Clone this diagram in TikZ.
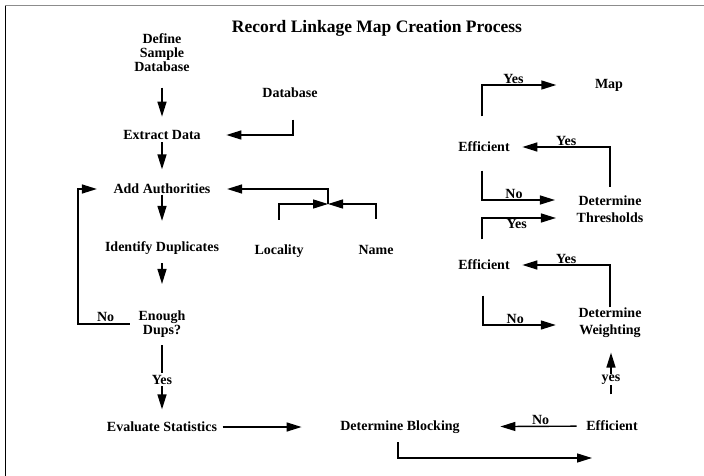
\documentclass[tikz,border=0pt]{standalone}
\usepackage{fontspec}
\setmainfont{Liberation Serif}
\usetikzlibrary{arrows.meta}
\begin{document}
\begin{tikzpicture}[x=1pt, y=-1pt, line width=1.4pt, >={Triangle[length=15pt,width=9pt]}, task node/.style={font=\bfseries\fontsize{14}{14}\selectfont, inner sep=0pt, align=center}, lbl/.style={font=\bfseries\fontsize{14}{14}\selectfont, inner sep=1pt}]%1pt = 1px
\useasboundingbox (0,0) rectangle (704,476);
\draw[line width=.8pt] (5,476) -- (5,5);
\draw[line width=.8pt, black!45] (5,5) -- (704,5);
\begin{scope}[every node/.style={task node}]
\node (title) at (377,28) {\fontsize{17.5}{18}\selectfont Record Linkage Map Creation Process};
\node (define) at (162,53) {Define\\Sample\\Database};
\node (database) at (290,93) {Database};
\node (extract) at (162,135) {Extract Data};
\node (addauth) at (162,189) {Add Authorities};
\node (identify) at (162,248) {Identify Duplicates};
\node (locality) at (279,251) {Locality};
\node (name) at (376,250) {Name};
\node (enough) at (162,324) {Enough\\Dups?};
\node (evaluate) at (162,427) {Evaluate Statistics};
\node (blocking) at (400,427) {Determine Blocking};
\node (effthree) at (612,426) {Efficient};
\node (weighting) at (610,323) {Determine\\[3pt]Weighting};
\node (efftwo) at (484,265) {Efficient};
\node (thresholds) at (610,209) {Determine\\[3pt]Thresholds};
\node (effone) at (484,147) {Efficient};
\node (map) at (609,85) {Map};
%\node (x) at (,) {};
\end{scope}
\begin{scope}[->, every node/.style={lbl}]
\coordinate (noloop) at (78,250);
\coordinate (merge) at (328,204);
\coordinate (blkend) at (592,458);
\draw (define) edge[shorten <=15pt, shorten >=13pt] (extract);
\draw[shorten <=21pt, shorten >=25pt] ([xshift=3pt]database.south) |- (extract);
\draw (extract) edge[shorten <=2pt, shorten >=14pt] (addauth);
\draw (addauth) edge[shorten >=20pt] (identify);
\draw (identify) edge[shorten <=8pt, shorten >=26pt] (enough);
\draw[shorten <=8pt, shorten >=16pt] (enough.west) -| node[above=1pt, pos=.27]{No} (noloop) |- (addauth.west);
\draw (enough) edge[shorten <=7pt, shorten >=12pt] node[fill=white, inner sep=2pt]{Yes} (evaluate);
\draw (evaluate) edge[shorten <=5pt, shorten >=38pt] (blocking);
\draw (effthree) edge[shorten <=9pt, shorten >=40pt] node[above, pos=.36]{No} (blocking);
\draw[shorten <=8pt] ([xshift=-2pt]blocking.south) |- (blkend);
\draw[shorten <=26pt, shorten >=14pt] ([xshift=-1pt]effthree.north) -- node[fill=white]{yes} ([xshift=1pt]weighting.south);
\draw[shorten >=12pt] (weighting.north) |- node[above, pos=.72]{Yes} (efftwo);
\draw[shorten <=25pt, shorten >=22pt] ([xshift=-1pt]efftwo.south) |- node[above, pos=.67]{No} ([yshift=-2pt]weighting.west);
\draw[shorten <=20pt, shorten >=20pt] ([xshift=-2pt]efftwo.north) |- node[below, pos=.685]{Yes} ([yshift=-9pt]thresholds.west);
\draw[shorten <=18pt, shorten >=21pt] ([xshift=-2pt]effone.south) |- node[above, pos=.67]{No} ([yshift=9pt]thresholds.west);
\draw[shorten <=8pt, shorten >=12pt] (thresholds.north) |- node[above, pos=.72]{Yes} (effone);
\draw[shorten <=25pt, shorten >=38pt] ([xshift=-2pt]effone.north) |- node[above, pos=.64]{Yes} (map);
\draw[shorten <=24pt] (locality) |- (merge);
\draw[shorten <=26pt] (name) |- (merge);
\draw[shorten >=16pt] (merge) |- (addauth);
\end{scope}
\end{tikzpicture}
\end{document}
